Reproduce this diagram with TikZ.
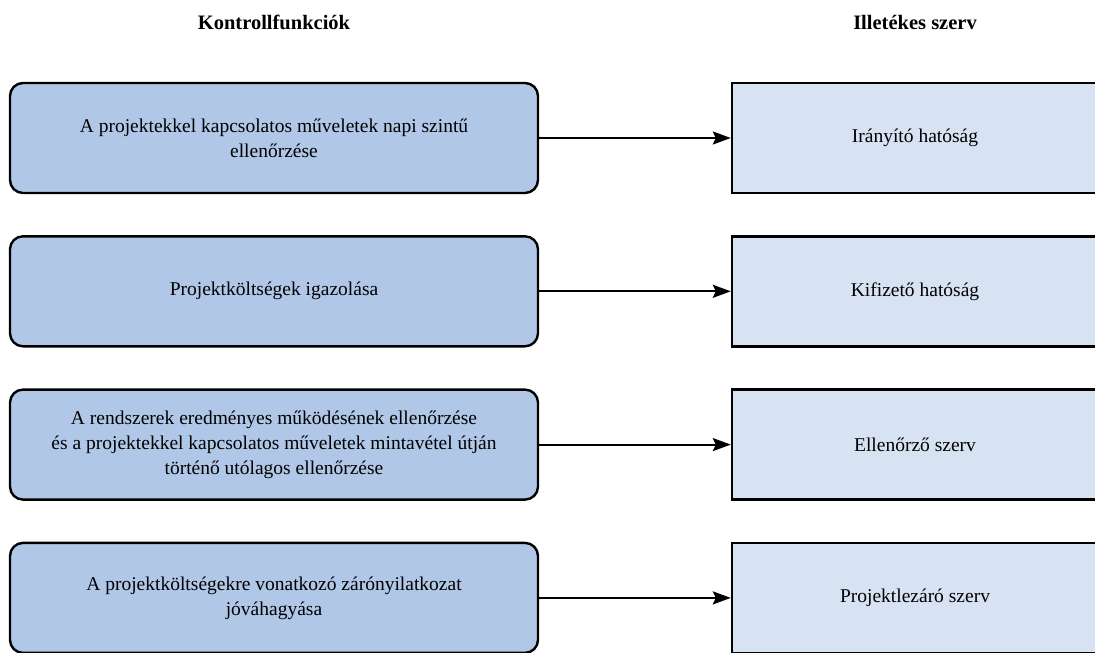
\documentclass[tikz,border=0pt]{standalone}
\usepackage{fontspec}
\setmainfont{Liberation Serif}
\usetikzlibrary{arrows.meta}

\definecolor{funcblue}{RGB}{177,199,231}
\definecolor{orgblue}{RGB}{215,227,243}

\tikzset{
	funcbox/.style={draw=black, line width=2.4pt, fill=funcblue, rounded corners=13pt,
		minimum width=528, minimum height=110, align=center,
		font=\fontsize{19.5}{25}\selectfont},
	orgbox/.style={draw=black, line width=2.4pt, fill=orgblue,
		minimum width=366, minimum height=110, align=center,
		font=\fontsize{19.5}{25}\selectfont},
	headline/.style={font=\fontsize{20.5}{24}\selectfont\bfseries},
	link/.style={line width=2pt, -{Stealth[length=18pt,width=13pt,inset=3pt]}}
}

\begin{document}
\begin{tikzpicture}[x=1pt,y=-1pt]
\useasboundingbox (0,0) rectangle (1095,653);
\clip (0,0) rectangle (1095,653);

\node[headline] (hfunc) at (274,22) {Kontrollfunkciók};
\node[headline] (horg) at (915,22) {Illetékes szerv};

\foreach \i/\f/\o in {
	1/{A projektekkel kapcsolatos műveletek napi szintű\\ellenőrzése}/{Irányító hatóság},
	2/{Projektköltségek igazolása}/{Kifizető hatóság},
	3/{A rendszerek eredményes működésének ellenőrzése\\és a projektekkel kapcsolatos műveletek mintavétel útján\\történő utólagos ellenőrzése}/{Ellenőrző szerv},
	4/{A projektköltségekre vonatkozó zárónyilatkozat\\jóváhagyása}/{Projektlezáró szerv}}
{
	\node[funcbox] (f\i) at (274,{138+153.3*(\i-1)}) {\f};
	\node[orgbox] (o\i) at (915,{138+153.3*(\i-1)}) {\o};
	\draw[link] (f\i) -- (o\i);
};
\end{tikzpicture}
\end{document}
